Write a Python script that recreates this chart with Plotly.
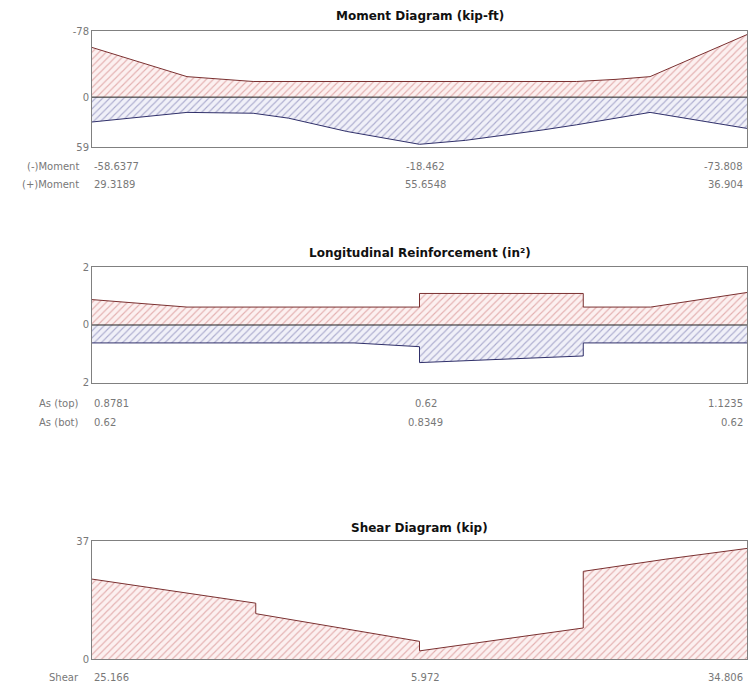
import plotly.graph_objects as go

# ---------------- data ----------------
# positions along the beam (fraction of span)
moment_neg_x = [0, 0.145, 0.246, 0.74, 0.80, 0.852, 1.0]
moment_neg = [-58.64, -24.2, -18.46, -18.46, -21.0, -24.2, -73.81]
moment_pos_x = [0, 0.145, 0.246, 0.30, 0.389, 0.45, 0.5, 0.57, 0.638, 0.69, 0.74, 0.80, 0.852, 1.0]
moment_pos = [29.32, 18.0, 19.0, 24.8, 40.5, 49.0, 55.65, 51.0, 44.4, 38.5, 32.6, 24.8, 18.0, 36.9]

as_top_x = [0, 0.145, 0.5, 0.5, 0.75, 0.75, 0.853, 1.0]
as_top = [0.8781, 0.62, 0.62, 1.09, 1.09, 0.62, 0.62, 1.1235]
as_bot_x = [0, 0.40, 0.5, 0.5, 0.75, 0.75, 1.0]
as_bot = [0.62, 0.62, 0.75, 1.30, 1.07, 0.62, 0.62]

shear_x = [0, 0.25, 0.25, 0.5, 0.5, 0.75, 0.75, 0.875, 1.0]
shear = [25.166, 17.6, 14.3, 5.6, 2.6, 9.8, 27.6, 31.4, 34.806]

moment_rows = [("(-)Moment", ["-58.6377", "-18.462", "-73.808"]),
               ("(+)Moment", ["29.3189", "55.6548", "36.904"])]
as_rows = [("As (top)", ["0.8781", "0.62", "1.1235"]),
           ("As (bot)", ["0.62", "0.8349", "0.62"])]
shear_rows = [("Shear", ["25.166", "5.972", "34.806"])]

titles = ["Moment Diagram (kip-ft)", "Longitudinal Reinforcement (in²)", "Shear Diagram (kip)"]

# ---------------- style ----------------
W, H = 748, 687
FONT = "DejaVu Sans"
RED_FG, RED_BG, RED_LINE = "#c97070", "#fcf0f0", "#7a3030"
BLU_FG, BLU_BG, BLU_LINE = "#6a6aa6", "#f0f0f8", "#30306a"
TXT = "#787878"

x0px, x1px = 92, 747
panels = [(29.3, 145.7), (266, 382), (541, 659)]


def px_x(p):
    return p / W


def px_y(p):
    # small empirical correction for the vertical placement of the rendered page
    q = (p - 4.2) / 0.985
    return 1 - q / H


fig = go.Figure()


def add_fill(x, y, xa, ya, fg, bg, line):
    fig.add_trace(go.Scatter(
        x=x, y=y, xaxis=xa, yaxis=ya, mode="lines", fill="tozeroy",
        line=dict(color=line, width=1), fillcolor=bg,
        fillpattern=dict(shape="/", fgcolor=fg, bgcolor=bg, size=5, solidity=0.22),
        hoverinfo="skip", showlegend=False))


# Moment
add_fill(moment_neg_x, moment_neg, "x", "y", RED_FG, RED_BG, RED_LINE)
add_fill(moment_pos_x, moment_pos, "x", "y", BLU_FG, BLU_BG, BLU_LINE)
fig.add_trace(go.Scatter(x=[0, 1], y=[0, 0], xaxis="x", yaxis="y", mode="lines",
                         line=dict(color="#222", width=1), hoverinfo="skip", showlegend=False))
# Reinforcement
add_fill(as_top_x, as_top, "x2", "y2", RED_FG, RED_BG, RED_LINE)
add_fill(as_bot_x, [-v for v in as_bot], "x2", "y2", BLU_FG, BLU_BG, BLU_LINE)
fig.add_trace(go.Scatter(x=[0, 1], y=[0, 0], xaxis="x2", yaxis="y2", mode="lines",
                         line=dict(color="#222", width=1), hoverinfo="skip", showlegend=False))
# Shear
add_fill(shear_x, shear, "x3", "y3", RED_FG, RED_BG, RED_LINE)

xdom = [px_x(x0px), px_x(x1px)]
axis_common = dict(showline=True, mirror=True, linecolor="#808080", linewidth=1,
                   showgrid=False, zeroline=False, ticks="",
                   tickfont=dict(family=FONT, size=10, color=TXT))
lay = {}
for i, (top, bot) in enumerate(panels):
    sfx = "" if i == 0 else str(i + 1)
    lay["xaxis" + sfx] = dict(domain=xdom, range=[0, 1], showticklabels=False,
                              anchor="y" + sfx, **axis_common)
ydefs = [
    dict(range=[59, -78], tickvals=[-78, 0, 59], ticktext=["-78", "0", "59"]),
    dict(range=[-2, 2], tickvals=[-2, 0, 2], ticktext=["2", "0", "2"]),
    dict(range=[0, 37], tickvals=[0, 37], ticktext=["0", "37"]),
]
for i, (top, bot) in enumerate(panels):
    sfx = "" if i == 0 else str(i + 1)
    lay["yaxis" + sfx] = dict(domain=[px_y(bot), px_y(top)], anchor="x" + sfx,
                              **ydefs[i], **axis_common)

annotations = []
title_y = [14, 252, 528]
for t, ty in zip(titles, title_y):
    annotations.append(dict(text="<b>" + t + "</b>", x=px_x((x0px + x1px) / 2), y=px_y(ty),
                            xref="paper", yref="paper", showarrow=False,
                            xanchor="center", yanchor="middle",
                            font=dict(family=FONT, size=12, color="#111")))


def add_rows(rows, ys):
    for (lab, vals), yy in zip(rows, ys):
        annotations.append(dict(text=lab, x=px_x(81), y=px_y(yy), xref="paper", yref="paper",
                                showarrow=False, xanchor="right", yanchor="middle",
                                font=dict(family=FONT, size=10, color=TXT)))
        for v, (xp, anc) in zip(vals, [(x0px, "left"), ((x0px + x1px) / 2 + 6, "center"), (x1px - 2, "right")]):
            annotations.append(dict(text=v, x=px_x(xp), y=px_y(yy), xref="paper", yref="paper",
                                    showarrow=False, xanchor=anc, yanchor="middle",
                                    font=dict(family=FONT, size=10, color=TXT)))


add_rows(moment_rows, [165, 183.5])
add_rows(as_rows, [403, 422])
add_rows(shear_rows, [677])

fig.update_layout(width=W, height=H, margin=dict(l=0, r=0, t=0, b=0),
                  paper_bgcolor="white", plot_bgcolor="white",
                  annotations=annotations, **lay)

fig.write_html("out.html", config={"displayModeBar": False},
               post_script="document.body.style.margin='0';document.body.style.padding='0';"
                           "document.documentElement.style.overflow='hidden';")
